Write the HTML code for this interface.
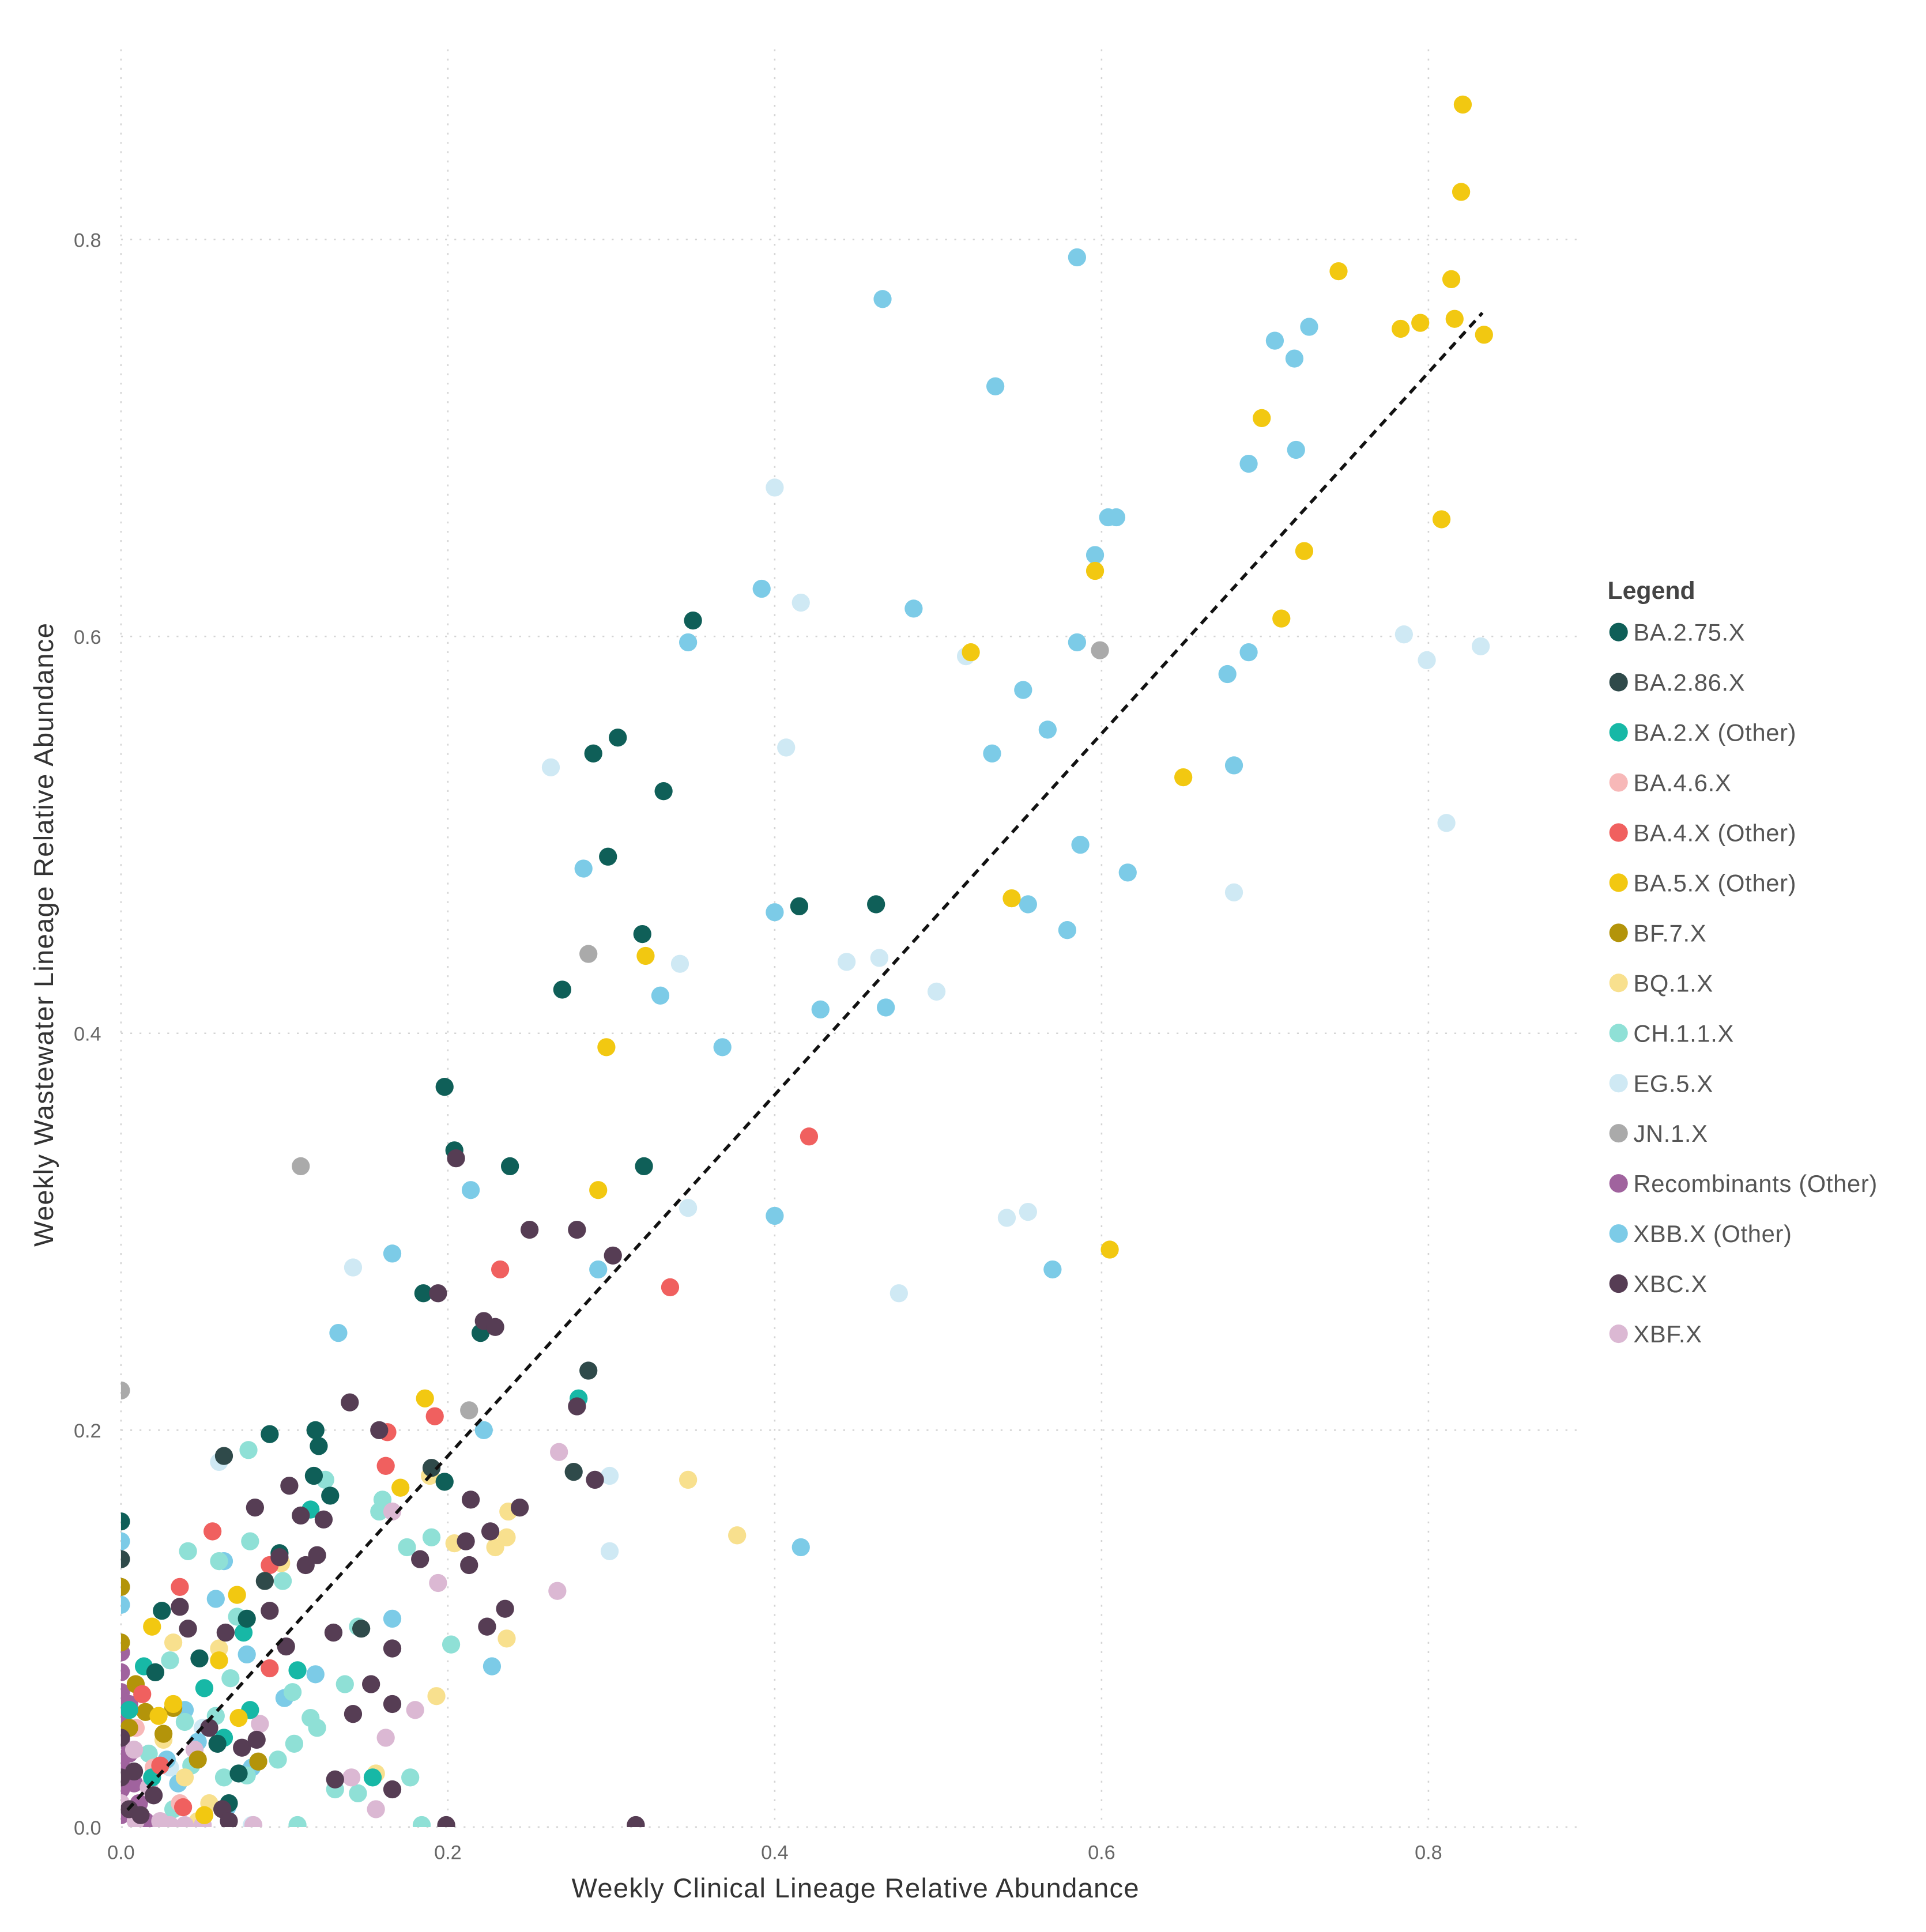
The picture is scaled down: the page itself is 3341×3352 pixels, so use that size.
<!DOCTYPE html>
<html><head><meta charset="utf-8"><style>
html,body{margin:0;padding:0;background:#fff;}
svg{display:block;}
text{font-family:"Liberation Sans","DejaVu Sans",sans-serif;}
</style></head><body>
<svg id="chart" width="3341" height="3352" viewBox="0 0 1560 1565" preserveAspectRatio="none" xmlns="http://www.w3.org/2000/svg">
<defs><clipPath id="plotclip"><rect x="98" y="0" width="1300" height="1480"/></clipPath></defs>
<g id="grid"></g>
<g id="ticks"></g>
<g id="points" clip-path="url(#plotclip)"></g>
<g id="trend"></g>
<text x="693" y="1537" font-size="22" letter-spacing="0.6" fill="#333" text-anchor="middle">Weekly Clinical Lineage Relative Abundance</text>
<text x="0" y="0" font-size="22" letter-spacing="0.6" fill="#333" text-anchor="middle" transform="translate(43,757) rotate(-90)">Weekly Wastewater Lineage Relative Abundance</text>
<g id="legend">
<text x="1302" y="485" font-size="20" font-weight="bold" fill="#444">Legend</text>
</g>
</svg>
<script>
const xTicks = [0, 0.2, 0.4, 0.6, 0.8];
const yTicks = [0, 0.2, 0.4, 0.6, 0.8];
const xTickLabels = ["0.0", "0.2", "0.4", "0.6", "0.8"];
const yTickLabels = ["0.0", "0.2", "0.4", "0.6", "0.8"];
const lineages = ["BA.2.75.X","BA.2.86.X","BA.2.X (Other)","BA.4.6.X","BA.4.X (Other)","BA.5.X (Other)","BF.7.X","BQ.1.X","CH.1.1.X","EG.5.X","JN.1.X","Recombinants (Other)","XBB.X (Other)","XBC.X","XBF.X"];
const colors = ["#0f5f58","#2f4a4a","#17b8a6","#f7b8b8","#f0605f","#f2c811","#b3940a","#f8e08e","#8fe0d6","#cfe9f4","#aaaaaa","#a0639e","#7ccbe7","#563d54","#dbb8d3"];
const trendIntercept = 0.005;
const trendSlope = 0.91;
const trendXMax = 0.833;
const serEG5 = [[0.400,0.675],[0.416,0.617],[0.407,0.544],[0.263,0.534],[0.517,0.590],[0.785,0.601],[0.799,0.588],[0.832,0.595],[0.811,0.506],[0.681,0.471],[0.342,0.435],[0.444,0.436],[0.464,0.438],[0.499,0.421],[0.347,0.312],[0.542,0.307],[0.555,0.310],[0.142,0.282],[0.476,0.269],[0.299,0.177],[0.299,0.139],[0.060,0.184],[0.080,0.001],[0.05,0.05],[0.03,0.03]];
const serXBB = [[0.585,0.791],[0.466,0.770],[0.535,0.726],[0.706,0.749],[0.727,0.756],[0.718,0.740],[0.719,0.694],[0.690,0.687],[0.596,0.641],[0.604,0.660],[0.609,0.660],[0.392,0.624],[0.485,0.614],[0.347,0.597],[0.585,0.597],[0.690,0.592],[0.677,0.581],[0.552,0.573],[0.567,0.553],[0.533,0.541],[0.681,0.535],[0.587,0.495],[0.616,0.481],[0.283,0.483],[0.400,0.461],[0.555,0.465],[0.579,0.452],[0.330,0.419],[0.428,0.412],[0.468,0.413],[0.368,0.393],[0.214,0.321],[0.400,0.308],[0.166,0.289],[0.292,0.281],[0.570,0.281],[0.133,0.249],[0.222,0.200],[0.416,0.141],[0.166,0.105],[0.227,0.081],[0,0.144],[0,0.112],[0.063,0.134],[0.058,0.115],[0.039,0.059],[0.047,0.043],[0.028,0.034],[0.119,0.077],[0.077,0.087],[0.035,0.022],[0.080,0.030],[0.100,0.065],[0.065,0.010]];
const serCH = [[0.078,0.190],[0.125,0.175],[0.160,0.165],[0.158,0.159],[0.175,0.141],[0.190,0.146],[0.041,0.139],[0.079,0.144],[0.099,0.124],[0.202,0.092],[0.060,0.134],[0.030,0.084],[0.058,0.056],[0.071,0.106],[0.067,0.075],[0.105,0.068],[0.116,0.055],[0.106,0.042],[0.120,0.050],[0.137,0.072],[0.145,0.101],[0.096,0.034],[0.077,0.026],[0.063,0.025],[0.039,0.053],[0.043,0.031],[0.131,0.019],[0.145,0.017],[0.177,0.025],[0.108,0.001],[0.184,0.001],[0.017,0.037],[0.032,0.009]];
const serBQ = [[0.347,0.175],[0.377,0.147],[0.236,0.146],[0.237,0.159],[0.229,0.141],[0.204,0.143],[0.189,0.177],[0.193,0.066],[0.236,0.095],[0.098,0.133],[0.060,0.090],[0.032,0.093],[0.039,0.025],[0.054,0.012],[0.156,0.027],[0.026,0.044],[0.047,0.003]];
const serBA46 = [[0.009,0.050],[0.036,0.012],[0.020,0.030]];
const serJN = [[0.599,0.593],[0.286,0.440],[0.110,0.333],[0.213,0.210],[0,0.220]];
const serRec = [[0,0.088],[0,0.078],[0,0.068],[0,0.056],[0,0.044],[0,0.031],[0,0.019],[0,0.006],[0.005,0.037],[0.008,0.022],[0.011,0.012],[0.015,0.003],[0.025,0.001],[0.005,0.062]];
const serXBF = [[0.268,0.189],[0.267,0.119],[0.166,0.159],[0.194,0.123],[0.180,0.059],[0.162,0.045],[0.156,0.009],[0.141,0.025],[0.085,0.052],[0.045,0.039],[0.008,0.039],[0.009,0.003],[0.024,0.003],[0.039,0.001],[0,0.012],[0.017,0.020],[0.081,0.001],[0.050,0.001],[0.030,0.001]];
const serBF7 = [[0,0.121],[0,0.093],[0.009,0.072],[0.026,0.047],[0.084,0.033],[0.032,0.060],[0.047,0.034],[0.005,0.050],[0.015,0.058]];
const serBA2 = [[0.280,0.216],[0.116,0.160],[0.075,0.098],[0.108,0.079],[0.014,0.081],[0.051,0.070],[0.154,0.025],[0.019,0.025],[0.079,0.059],[0.005,0.059],[0.063,0.045]];
const serBA4 = [[0.421,0.348],[0.232,0.281],[0.336,0.272],[0.192,0.207],[0.163,0.199],[0.162,0.182],[0.056,0.149],[0.036,0.121],[0.091,0.132],[0.091,0.080],[0.013,0.067],[0.024,0.031],[0.038,0.010]];
const serBA5 = [[0.821,0.868],[0.820,0.824],[0.745,0.784],[0.814,0.780],[0.783,0.755],[0.795,0.758],[0.816,0.760],[0.834,0.752],[0.698,0.710],[0.808,0.659],[0.596,0.633],[0.724,0.643],[0.710,0.609],[0.520,0.592],[0.650,0.529],[0.545,0.468],[0.321,0.439],[0.297,0.393],[0.292,0.321],[0.605,0.291],[0.186,0.216],[0.171,0.171],[0.019,0.101],[0.060,0.084],[0.072,0.055],[0.023,0.056],[0.032,0.062],[0.071,0.117],[0.051,0.006]];
const serBA275 = [[0.350,0.608],[0.304,0.549],[0.289,0.541],[0.332,0.522],[0.298,0.489],[0.415,0.464],[0.462,0.465],[0.319,0.450],[0.270,0.422],[0.198,0.373],[0.204,0.341],[0.238,0.333],[0.320,0.333],[0.185,0.269],[0.220,0.249],[0.091,0.198],[0.119,0.200],[0.121,0.192],[0.118,0.177],[0.128,0.167],[0.198,0.174],[0.025,0.109],[0,0.154],[0.048,0.085],[0.097,0.138],[0.077,0.105],[0.059,0.042],[0.021,0.078],[0.072,0.027],[0.066,0.012]];
const serBA286 = [[0.286,0.230],[0.277,0.179],[0.190,0.181],[0.063,0.187],[0.147,0.100],[0.088,0.124],[0,0.135]];
const serXBC = [[0.205,0.337],[0.250,0.301],[0.279,0.301],[0.301,0.288],[0.194,0.269],[0.222,0.255],[0.229,0.252],[0.140,0.214],[0.158,0.200],[0.279,0.212],[0.290,0.175],[0.244,0.161],[0.214,0.165],[0.211,0.144],[0.213,0.132],[0.226,0.149],[0.235,0.110],[0.224,0.101],[0.183,0.135],[0.166,0.090],[0.153,0.072],[0.166,0.062],[0.142,0.057],[0.131,0.024],[0.166,0.019],[0.110,0.157],[0.124,0.155],[0.120,0.137],[0.113,0.132],[0.103,0.172],[0.082,0.161],[0.097,0.136],[0.091,0.109],[0.101,0.091],[0.064,0.098],[0.041,0.100],[0.036,0.111],[0.083,0.044],[0.074,0.040],[0.054,0.050],[0.062,0.009],[0.066,0.003],[0.199,0.001],[0.315,0.001],[0.020,0.016],[0.008,0.028],[0.005,0.009],[0.130,0.098],[0,0.045],[0,0.025],[0.012,0.006]];
const drawOrder = [[9,serEG5],[12,serXBB],[8,serCH],[7,serBQ],[3,serBA46],[10,serJN],[11,serRec],[14,serXBF],[6,serBF7],[2,serBA2],[4,serBA4],[5,serBA5],[0,serBA275],[1,serBA286],[13,serXBC]];

const NS = "http://www.w3.org/2000/svg";
const X0 = 98, XS = 1323.75, Y0 = 1480, YS = 1607.5;
function xs(v){ return X0 + v*XS; }
function ys(v){ return Y0 - v*YS; }
function mk(tag, attrs, parent){ const e = document.createElementNS(NS, tag); for (const k in attrs) e.setAttribute(k, attrs[k]); parent.appendChild(e); return e; }

const grid = document.getElementById('grid');
const ticks = document.getElementById('ticks');
xTicks.forEach((t,i)=>{
  const l = mk('line',{x1:xs(t),x2:xs(t),y1:40,y2:1480,stroke:'#d4d4d4','stroke-width':1.2,'stroke-dasharray':'1.5 6'},grid);
  
  
  const tx = mk('text',{x:xs(t),y:1506,'font-size':16,fill:'#666','text-anchor':'middle'},ticks);
  tx.textContent = xTickLabels[i];
  
  
});
yTicks.forEach((t,i)=>{
  const l = mk('line',{x1:98,x2:1283,y1:ys(t),y2:ys(t),stroke:'#d4d4d4','stroke-width':1.2,'stroke-dasharray':'1.5 6'},grid);
  
  
  const tx = mk('text',{x:82,y:ys(t)+6,'font-size':16,fill:'#666','text-anchor':'end'},ticks);
  tx.textContent = yTickLabels[i];
  
  
});

const pts = document.getElementById('points');
drawOrder.forEach(([ci, ser])=>{
  ser.forEach(p=>{
    const c = mk('circle',{cx:xs(p[0]),cy:ys(p[1]),r:7.3,fill:colors[ci]},pts);
    
    
  });
});

const trend = document.getElementById('trend');
const tl = mk('line',{x1:xs(0.004),y1:ys(trendIntercept+trendSlope*0.004),x2:xs(trendXMax),y2:ys(trendIntercept+trendSlope*trendXMax),stroke:'#111','stroke-width':2.6,'stroke-dasharray':'7 5'},trend);



const leg = document.getElementById('legend');
lineages.forEach((name,i)=>{
  const cy = 512 + i*40.6;
  const c = mk('circle',{cx:1311,cy:cy,r:7.5,fill:colors[i]},leg);
  
  
  const t = mk('text',{x:1323,y:cy+7,'font-size':19.5,'letter-spacing':0.3,fill:'#555'},leg);
  t.textContent = name;
  
  
});
</script>
</body></html>
